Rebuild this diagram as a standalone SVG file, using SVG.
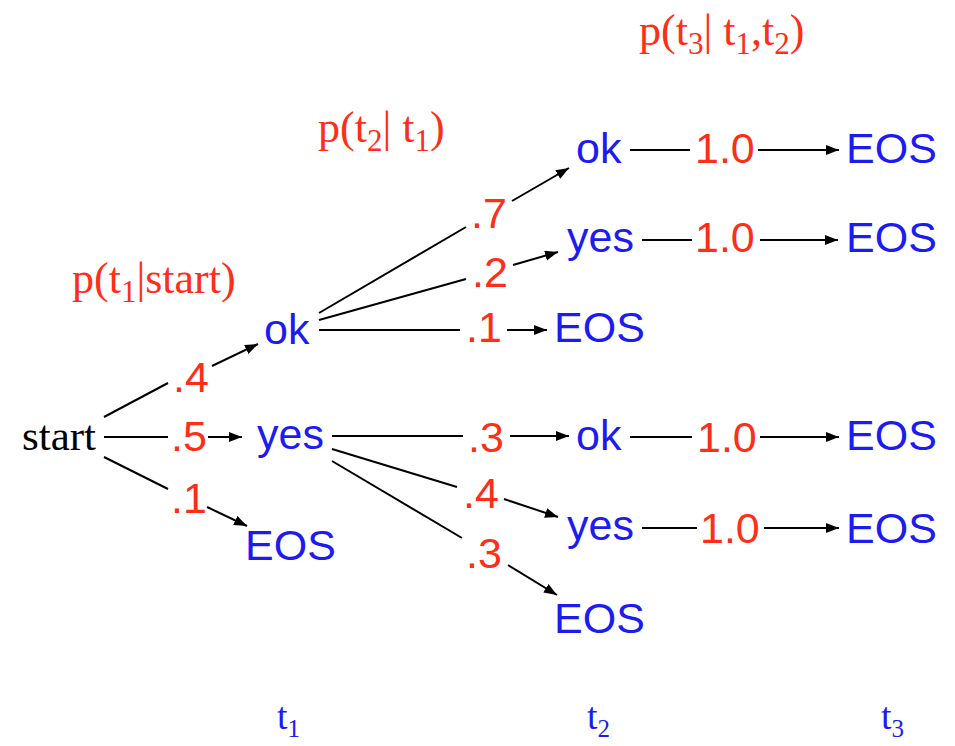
<svg xmlns="http://www.w3.org/2000/svg" width="955" height="746" viewBox="0 0 955 746">
  <defs>
    <marker id="arrow" markerUnits="userSpaceOnUse" markerWidth="15" markerHeight="11" refX="13" refY="5" orient="auto">
      <path d="M0,0 L13,5 L0,10 z" fill="#000"/>
    </marker>
    <style>
      .node { font-family: "Liberation Sans", Arial, sans-serif; font-size: 43px; fill: #1c1cf2; }
      .prob { font-family: "Liberation Sans", Arial, sans-serif; font-size: 43px; fill: #ff2e17; }
      .head { font-family: "Liberation Serif", "Times New Roman", serif; font-size: 44px; fill: #ff2e17; }
      .axis { font-family: "Liberation Serif", "Times New Roman", serif; font-size: 38px; fill: #1c1cf2; }
      .root { font-family: "Liberation Serif", "Times New Roman", serif; font-size: 43px; fill: #000; }
      .edge { stroke: #000; stroke-width: 2; fill: none; }
      .arr { stroke: #000; stroke-width: 2; fill: none; marker-end: url(#arrow); }
    </style>
  </defs>

  <rect width="955" height="746" fill="#fff"/>

  <!-- conditional probability headers -->
  <g id="headers">
    <text class="head" x="72" y="293">p(t<tspan font-size="31" dy="9">1</tspan><tspan dy="-9">|start)</tspan></text>
    <text class="head" x="318" y="142">p(t<tspan font-size="31" dy="9">2</tspan><tspan dy="-9">| t</tspan><tspan font-size="31" dy="9">1</tspan><tspan dy="-9">)</tspan></text>
    <text class="head" x="639" y="45">p(t<tspan font-size="31" dy="9">3</tspan><tspan dy="-9">| t</tspan><tspan font-size="31" dy="9">1</tspan><tspan dy="-9">,t</tspan><tspan font-size="31" dy="9">2</tspan><tspan dy="-9">)</tspan></text>
  </g>

  <!-- connectors: plain segment before the probability, arrow after it -->
  <g id="connectors">
    <!-- start -> t1 -->
    <line class="edge" x1="104" y1="417" x2="168" y2="383"/>
    <line class="arr" x1="212" y1="366" x2="258" y2="344"/>
    <line class="edge" x1="104" y1="437" x2="168" y2="437"/>
    <line class="arr" x1="208" y1="437" x2="242" y2="437"/>
    <line class="edge" x1="104" y1="457" x2="168" y2="489"/>
    <line class="arr" x1="207" y1="507" x2="247" y2="526"/>
    <!-- ok -> t2 -->
    <line class="edge" x1="319" y1="313" x2="466" y2="227"/>
    <line class="arr" x1="512" y1="201" x2="569" y2="168"/>
    <line class="edge" x1="319" y1="320" x2="466" y2="279"/>
    <line class="arr" x1="513" y1="265" x2="558" y2="252"/>
    <line class="edge" x1="319" y1="330" x2="460" y2="330"/>
    <line class="arr" x1="507" y1="330" x2="547" y2="330"/>
    <!-- yes -> t2 -->
    <line class="edge" x1="332" y1="436" x2="463" y2="436"/>
    <line class="arr" x1="510" y1="436" x2="569" y2="436"/>
    <line class="edge" x1="332" y1="449" x2="457" y2="487"/>
    <line class="arr" x1="504" y1="499" x2="558" y2="517"/>
    <line class="edge" x1="332" y1="461" x2="462" y2="538"/>
    <line class="arr" x1="508" y1="565" x2="557" y2="595"/>
    <!-- t2 -> t3 -->
    <line class="edge" x1="630" y1="150" x2="690" y2="150"/>
    <line class="arr" x1="758" y1="150" x2="839" y2="150"/>
    <line class="edge" x1="642" y1="240" x2="692" y2="240"/>
    <line class="arr" x1="760" y1="240" x2="838" y2="240"/>
    <line class="edge" x1="630" y1="437" x2="692" y2="437"/>
    <line class="arr" x1="760" y1="437" x2="839" y2="437"/>
    <line class="edge" x1="642" y1="528" x2="697" y2="528"/>
    <line class="arr" x1="764" y1="528" x2="839" y2="528"/>
  </g>

  <!-- probabilities on the edges -->
  <g id="probabilities">
    <text class="prob" x="173" y="392">.4</text>
    <text class="prob" x="171" y="451">.5</text>
    <text class="prob" x="171" y="513">.1</text>
    <text class="prob" x="471" y="228">.7</text>
    <text class="prob" x="472" y="287">.2</text>
    <text class="prob" x="466" y="342">.1</text>
    <text class="prob" x="468" y="452">.3</text>
    <text class="prob" x="463" y="508">.4</text>
    <text class="prob" x="466" y="568">.3</text>
    <text class="prob" x="695" y="163">1.0</text>
    <text class="prob" x="695" y="252">1.0</text>
    <text class="prob" x="697" y="452">1.0</text>
    <text class="prob" x="700" y="543">1.0</text>
  </g>

  <!-- nodes -->
  <g id="start"><text class="root" x="22" y="450">start</text></g>

  <g id="t1-ok"><text class="node" x="264" y="344">ok</text></g>
  <g id="t1-yes"><text class="node" x="257" y="449">yes</text></g>
  <g id="t1-eos"><text class="node" x="245" y="560">EOS</text></g>

  <g id="t2-ok-ok"><text class="node" x="576" y="163">ok</text></g>
  <g id="t2-ok-yes"><text class="node" x="567" y="252">yes</text></g>
  <g id="t2-ok-eos"><text class="node" x="554" y="342">EOS</text></g>
  <g id="t2-yes-ok"><text class="node" x="576" y="450">ok</text></g>
  <g id="t2-yes-yes"><text class="node" x="567" y="540">yes</text></g>
  <g id="t2-yes-eos"><text class="node" x="554" y="633">EOS</text></g>

  <g id="t3-eos-1"><text class="node" x="846" y="163">EOS</text></g>
  <g id="t3-eos-2"><text class="node" x="846" y="252">EOS</text></g>
  <g id="t3-eos-3"><text class="node" x="846" y="450">EOS</text></g>
  <g id="t3-eos-4"><text class="node" x="846" y="543">EOS</text></g>

  <!-- time-step axis labels -->
  <g id="axis">
    <text class="axis" x="277" y="729">t<tspan font-size="25" dy="8">1</tspan></text>
    <text class="axis" x="587" y="729">t<tspan font-size="25" dy="8">2</tspan></text>
    <text class="axis" x="881" y="729">t<tspan font-size="25" dy="8">3</tspan></text>
  </g>
</svg>
